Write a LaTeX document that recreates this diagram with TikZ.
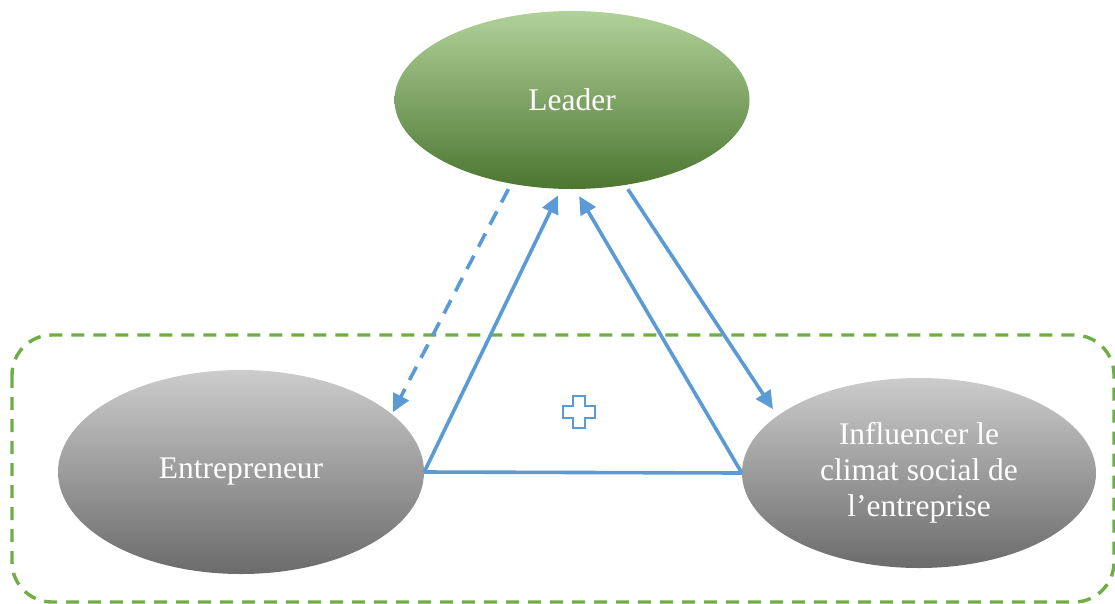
\documentclass[tikz,border=0pt]{standalone}
\usepackage{fontspec}
\setmainfont{Liberation Serif}
\usepackage{tikz}
\usetikzlibrary{shapes.geometric,arrows.meta}

\definecolor{lineblue}{HTML}{5B9BD5}
\definecolor{framegreen}{HTML}{70AD47}

\tikzset{
	bubble/.style={ellipse, inner sep=0pt, text=white, align=center,
		font=\fontsize{31.5}{36}\selectfont},
	greenbubble/.style={bubble, top color=framegreen!55!white, middle color=framegreen, bottom color=framegreen!68!black},
	greybubble/.style={bubble, top color=black!20, middle color=black!35, bottom color=black!58},
	link/.style={draw=lineblue, line width=3.6pt, -{Triangle[length=18pt,width=17pt]}},
}

\begin{document}
\begin{tikzpicture}[x=1pt, y=-1pt]
		\useasboundingbox (0,0) rectangle (1115,603);

		% dashed frame round the lower part
		\draw[framegreen, line width=3.4pt, dash pattern=on 13pt off 9pt, rounded corners=40pt]
		(12,335) rectangle (1114,602);

		\node[greenbubble, minimum width=355pt, minimum height=178pt] (leader) at (572,100) {Leader};
		\node[greybubble, minimum width=366pt, minimum height=204pt] (entre) at (241,472) {Entrepreneur};
		\node[greybubble, minimum width=354pt, minimum height=190pt] (climat) at (919,473)
		{Influencer le\\climat social de\\l’entreprise};

		\draw[link, dash pattern=on 15pt off 10pt, shorten <=6pt, shorten >=2pt] (leader.234) -- (entre.21);
		\draw[link, shorten <=5pt, shorten >=8pt] (leader.302) -- (climat.158);
		\draw[link, shorten >=7pt] (entre.east) -- (leader.263);
		\draw[link, shorten >=8pt] (climat.west) -- (leader.272);
		\draw[draw=lineblue, line width=3.6pt] (entre.east) -- (climat.west);

		\coordinate (plus) at (579,412);
		\draw[lineblue, line width=2.6pt, fill=white]
		(plus) ++(-6,-16) -- ++(12,0) -- ++(0,10) -- ++(10,0) -- ++(0,12) -- ++(-10,0)
		-- ++(0,10) -- ++(-12,0) -- ++(0,-10) -- ++(-10,0) -- ++(0,-12) -- ++(10,0) -- cycle;
	\end{tikzpicture}
\end{document}
